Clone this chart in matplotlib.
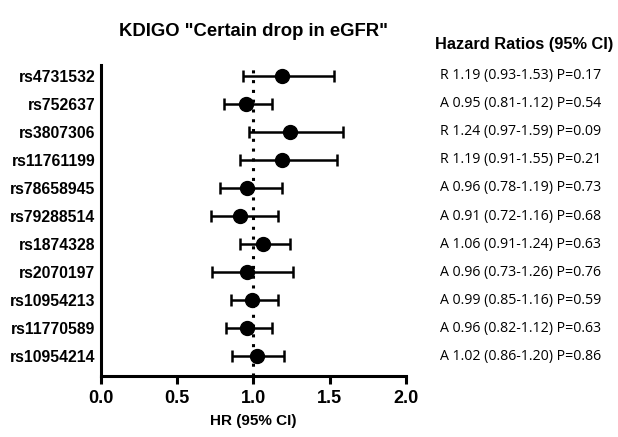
import matplotlib.pyplot as plt
import matplotlib.transforms as mtransforms
import numpy as np

snps = ['rs4731532', 'rs752637', 'rs3807306', 'rs11761199', 'rs78658945', 'rs79288514',
        'rs1874328', 'rs2070197', 'rs10954213', 'rs11770589', 'rs10954214']
allele = ['R', 'A', 'R', 'R', 'A', 'A', 'A', 'A', 'A', 'A', 'A']
hr = [1.19, 0.95, 1.24, 1.19, 0.96, 0.91, 1.06, 0.96, 0.99, 0.96, 1.02]
lo = [0.93, 0.81, 0.97, 0.91, 0.78, 0.72, 0.91, 0.73, 0.85, 0.82, 0.86]
hi = [1.53, 1.12, 1.59, 1.55, 1.19, 1.16, 1.24, 1.26, 1.16, 1.12, 1.20]
pval = ['0.17', '0.54', '0.09', '0.21', '0.73', '0.68', '0.63', '0.76', '0.59', '0.63', '0.86']

plt.rcParams['font.family'] = ['Liberation Sans', 'DejaVu Sans']

fig = plt.figure(figsize=(6.18, 4.37), dpi=100)
ax = fig.add_axes([0.1634, 0.1396, 0.4935, 0.7117])

n = len(snps)
y = np.arange(n)[::-1]
hr_a = np.array(hr)
err = [hr_a - np.array(lo), np.array(hi) - hr_a]

ax.axvline(1.0, color='black', linestyle=(0, (1, 2.2)), linewidth=2.2, zorder=1)
ax.errorbar(hr, y, xerr=err, fmt='o', color='black', markersize=10,
            elinewidth=1.8, capsize=4, capthick=1.8, zorder=3)

ax.set_xlim(0, 2)
ax.set_ylim(-0.71, n - 1 + 0.39)
ax.set_xticks([0, 0.5, 1.0, 1.5, 2.0])
ax.set_xticklabels(['0.0', '0.5', '1.0', '1.5', '2.0'], fontsize=13, fontweight='bold')
ax.set_yticks(y)
ax.set_yticklabels(snps, fontsize=11.3, fontweight='bold')
ax.tick_params(axis='x', length=6, width=2.2, pad=4)
ax.tick_params(axis='y', length=0, pad=4)

for s in ['top', 'right']:
    ax.spines[s].set_visible(False)
for s in ['left', 'bottom']:
    ax.spines[s].set_linewidth(2.2)

ax.set_xlabel('HR (95% CI)', fontsize=11, fontweight='bold', labelpad=5)
ax.set_title('KDIGO "Certain drop in eGFR"', fontsize=13.3, fontweight='bold', pad=21)

fig.text(0.848, 0.898, 'Hazard Ratios (95% CI)', fontsize=11.8, fontweight='bold',
         ha='center', va='center')
trans = mtransforms.blended_transform_factory(fig.transFigure, ax.transData)
for i in range(n):
    txt = f'{allele[i]} {hr[i]:.2f} ({lo[i]:.2f}-{hi[i]:.2f}) P={pval[i]}'
    ax.text(0.842, y[i], txt, transform=trans, fontsize=10.2,
            ha='center', va='center', family=['Open Sans', 'DejaVu Sans'], clip_on=False)

fig.savefig('out.png', dpi=100)
